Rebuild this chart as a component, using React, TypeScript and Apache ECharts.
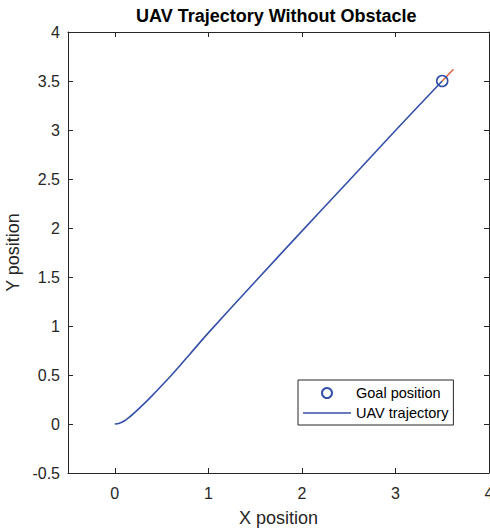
import React, { useEffect, useRef } from "react";
import * as echarts from "echarts";

const trajectoryX = [0, 0.05, 0.1, 0.15, 0.2, 0.3, 0.4, 0.5, 0.6, 0.7, 0.8, 1.0, 1.5, 2.0, 2.5, 3.0, 3.5];
const trajectoryY = [0, 0.008, 0.03, 0.065, 0.105, 0.195, 0.29, 0.39, 0.493, 0.6, 0.71, 0.93, 1.452, 1.968, 2.48, 2.995, 3.5];
const goal = [3.5, 3.5];
const headingX = [3.5, 3.62];
const headingY = [3.5, 3.62];

const FONT = "Liberation Sans, Arial, Helvetica, sans-serif";
const AX = "#262626";
const BLUE = "#3450a8";

export default function App() {
  const ref = useRef<HTMLDivElement>(null);
  useEffect(() => {
    if (!ref.current) return;
    const chart = echarts.init(ref.current, null, { renderer: "svg" });
    const axisCommon = {
      type: "value",
      min: -0.5,
      max: 4,
      interval: 0.5,
      splitLine: { show: false },
      axisLine: { show: true, onZero: false, lineStyle: { color: AX, width: 1 } },
      axisTick: { show: true, inside: true, length: 5, lineStyle: { color: AX } },
    };
    chart.setOption({
      animation: false,
      backgroundColor: "#ffffff",
      textStyle: { fontFamily: FONT },
      title: {
        text: "UAV Trajectory Without Obstacle",
        left: 136,
        top: 7,
        padding: 0,
        textStyle: { fontFamily: FONT, fontSize: 18, fontWeight: "bold", color: "#000" },
      },
      grid: {
        left: 68,
        top: 32,
        right: 1,
        bottom: 57,
        containLabel: false,
        outerBoundsMode: "none",
      },
      xAxis: [
        {
          ...axisCommon,
          interval: 1,
          position: "bottom",
          axisTick: { ...axisCommon.axisTick, customValues: [0, 1, 2, 3, 4] },
          axisLabel: {
            show: true,
            margin: 12,
            fontSize: 16,
            color: AX,
            fontFamily: FONT,
            customValues: [0, 1, 2, 3, 4],
          },
          name: "X position",
          nameLocation: "middle",
          nameGap: 36,
          nameTextStyle: { fontSize: 18, color: AX, fontFamily: FONT },
        },
        {
          ...axisCommon,
          interval: 1,
          position: "top",
          axisTick: { ...axisCommon.axisTick, customValues: [0, 1, 2, 3, 4] },
          axisLabel: { show: false },
        },
      ],
      yAxis: [
        {
          ...axisCommon,
          position: "left",
          axisLabel: { show: true, margin: 8, fontSize: 16, color: AX, fontFamily: FONT },
          name: "Y position",
          nameLocation: "middle",
          nameGap: 39,
          nameTextStyle: { fontSize: 18, color: AX, fontFamily: FONT },
        },
        {
          ...axisCommon,
          position: "right",
          axisLabel: { show: false },
        },
      ],
      legend: {
        orient: "vertical",
        left: 298,
        top: 380,
        padding: [5, 5, 4, 5],
        itemGap: 4,
        itemWidth: 48,
        itemHeight: 10,
        backgroundColor: "#ffffff",
        borderColor: AX,
        borderWidth: 1,
        borderRadius: 0,
        textStyle: { fontSize: 14.5, color: "#000", fontFamily: FONT, lineHeight: 16 },
        data: [
          { name: "Goal position", icon: "emptyCircle", itemStyle: { color: BLUE, borderColor: BLUE, borderWidth: 1.6 } },
          { name: "UAV trajectory", icon: "path://M0,0H48V1.5H0Z", itemStyle: { color: BLUE } },
        ],
      },
      series: [
        {
          name: "UAV trajectory",
          type: "line",
          data: trajectoryX.map((x, i) => [x, trajectoryY[i]]),
          showSymbol: false,
          symbol: "none",
          smooth: 0.3,
          lineStyle: { color: BLUE, width: 1.6 },
          itemStyle: { color: BLUE },
          z: 2,
        },
        {
          name: "Heading",
          type: "line",
          data: headingX.map((x, i) => [x, headingY[i]]),
          symbol: "none",
          lineStyle: { color: "#d9532a", width: 1.2 },
          z: 3,
        },
        {
          name: "Goal position",
          type: "scatter",
          data: [goal],
          symbol: "circle",
          symbolSize: 11,
          itemStyle: { color: "transparent", borderColor: BLUE, borderWidth: 1.6, opacity: 1 },
          z: 4,
        },
      ],
    });
    return () => chart.dispose();
  }, []);
  return <div ref={ref} style={{ width: 490, height: 530, position: "absolute", left: 0, top: 0 }} />;
}
